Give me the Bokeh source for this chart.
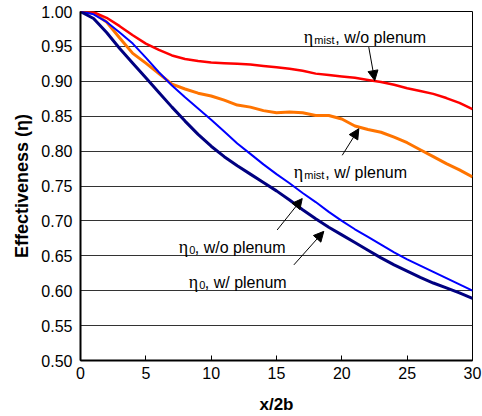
from bokeh.plotting import figure
from bokeh.models import Range1d, FixedTicker, NumeralTickFormatter, Arrow, NormalHead
from bokeh.core.properties import value
from bokeh.embed import file_html
from bokeh.resources import INLINE

# ---- data ----
x_vals = list(range(31))
eta_mist_wo_plenum = [1.000, 0.999, 0.991, 0.979, 0.966, 0.954, 0.945, 0.937, 0.932, 0.929,
                      0.927, 0.926, 0.925, 0.924, 0.922, 0.920, 0.918, 0.915, 0.911, 0.909,
                      0.907, 0.905, 0.902, 0.899, 0.895, 0.890, 0.886, 0.882, 0.876, 0.869, 0.860]
eta_mist_w_plenum = [1.000, 0.998, 0.985, 0.962, 0.940, 0.926, 0.911, 0.896, 0.889, 0.883,
                     0.879, 0.873, 0.866, 0.863, 0.858, 0.855, 0.856, 0.855, 0.851, 0.851,
                     0.846, 0.836, 0.831, 0.827, 0.820, 0.812, 0.802, 0.792, 0.782, 0.773, 0.763]
eta0_wo_plenum = [1.000, 0.996, 0.985, 0.970, 0.954, 0.934, 0.913, 0.894, 0.877, 0.861,
                  0.845, 0.828, 0.811, 0.796, 0.781, 0.767, 0.754, 0.740, 0.727, 0.713,
                  0.700, 0.688, 0.677, 0.666, 0.655, 0.645, 0.636, 0.627, 0.618, 0.609, 0.600]
eta0_w_plenum = [1.000, 0.990, 0.970, 0.947, 0.926, 0.905, 0.884, 0.863, 0.843, 0.824,
                 0.807, 0.792, 0.779, 0.767, 0.755, 0.743, 0.730, 0.716, 0.703, 0.691,
                 0.680, 0.669, 0.658, 0.647, 0.637, 0.628, 0.619, 0.611, 0.604, 0.597, 0.589]

x_ticks = [0, 5, 10, 15, 20, 25, 30]
y_ticks = [0.50, 0.55, 0.60, 0.65, 0.70, 0.75, 0.80, 0.85, 0.90, 0.95, 1.00]

# annotations: (eta x, baseline y, subscript, rest text)
ann_x = [17.09, 16.32, 7.52, 8.29]
ann_y = [0.963, 0.770, 0.662, 0.612]
ann_sub = ["mist", "mist", "0", "0"]
ann_rest = [", w/o plenum", ", w/ plenum", ", w/o plenum", ", w/ plenum"]
arrow_tail_x = [22.06, 20.03, 15.05, 16.33]
arrow_tail_y = [0.949, 0.794, 0.687, 0.637]
arrow_tip_x = [22.52, 21.30, 16.97, 18.62]
arrow_tip_y = [0.901, 0.832, 0.732, 0.685]

FONT = "Liberation Sans"

p = figure(width=482, height=416, output_backend="svg", toolbar_location=None,
           x_range=Range1d(0, 30), y_range=Range1d(0.5, 1.0),
           min_border_left=80, min_border_right=10, min_border_top=11, min_border_bottom=55)
p.background_fill_color = "white"
p.border_fill_color = "white"
p.outline_line_color = "black"
p.outline_line_width = 1

p.xgrid.visible = False
p.ygrid.ticker = FixedTicker(ticks=y_ticks)
p.ygrid.grid_line_color = "#333333"
p.ygrid.grid_line_width = 1

p.xaxis.ticker = FixedTicker(ticks=x_ticks)
p.yaxis.ticker = FixedTicker(ticks=y_ticks)
p.yaxis.formatter = NumeralTickFormatter(format="0.00")

for ax in (p.xaxis, p.yaxis):
    ax.axis_line_color = "black"
    ax.axis_line_width = 2
    ax.major_label_text_font = FONT
    ax.major_label_text_font_size = "16px"
    ax.major_label_text_color = "black"
    ax.minor_tick_line_color = None
    ax.axis_label_text_font = FONT
    ax.axis_label_text_font_style = "bold"
    ax.axis_label_text_color = "black"

p.xaxis.major_tick_in = 5
p.xaxis.major_tick_out = 0
p.xaxis.major_tick_line_color = "black"
p.xaxis.major_label_standoff = 6
p.xaxis.axis_label = "x/2b"
p.xaxis.axis_label_text_font_size = "17px"
p.xaxis.axis_label_standoff = 13

p.yaxis.major_tick_in = 0
p.yaxis.major_tick_out = 0
p.yaxis.major_label_standoff = 8
p.yaxis.axis_label = "Effectiveness (η)"
p.yaxis.axis_label_text_font_size = "18px"
p.yaxis.axis_label_standoff = 6

p.line(x_vals, eta_mist_w_plenum, line_color="#FF7400", line_width=3)
p.line(x_vals, eta_mist_wo_plenum, line_color="#FF0000", line_width=2.5)
p.line(x_vals, eta0_wo_plenum, line_color="#0000FF", line_width=2)
p.line(x_vals, eta0_w_plenum, line_color="#000080", line_width=3)

for i in range(len(ann_x)):
    p.text(x=[ann_x[i]], y=[ann_y[i]], text=["η"], text_font=value("Liberation Serif"),
           text_font_size="18px", text_baseline="alphabetic", text_align="left", text_color="black")
    p.text(x=[ann_x[i]], y=[ann_y[i]], text=[ann_sub[i]], text_font=value(FONT),
           text_font_size="11px", text_baseline="alphabetic", text_align="left",
           text_color="black", x_offset=10.5, y_offset=3)
    off = 31.5 if ann_sub[i] == "mist" else 16
    p.text(x=[ann_x[i]], y=[ann_y[i]], text=[ann_rest[i]], text_font=value(FONT),
           text_font_size="16px", text_baseline="alphabetic", text_align="left",
           text_color="black", x_offset=off)
    p.add_layout(Arrow(end=NormalHead(size=10, fill_color="black", line_color="black"),
                       x_start=arrow_tail_x[i], y_start=arrow_tail_y[i],
                       x_end=arrow_tip_x[i], y_end=arrow_tip_y[i],
                       line_color="black", line_width=1))

open("out.html", "w").write(file_html(p, INLINE))
